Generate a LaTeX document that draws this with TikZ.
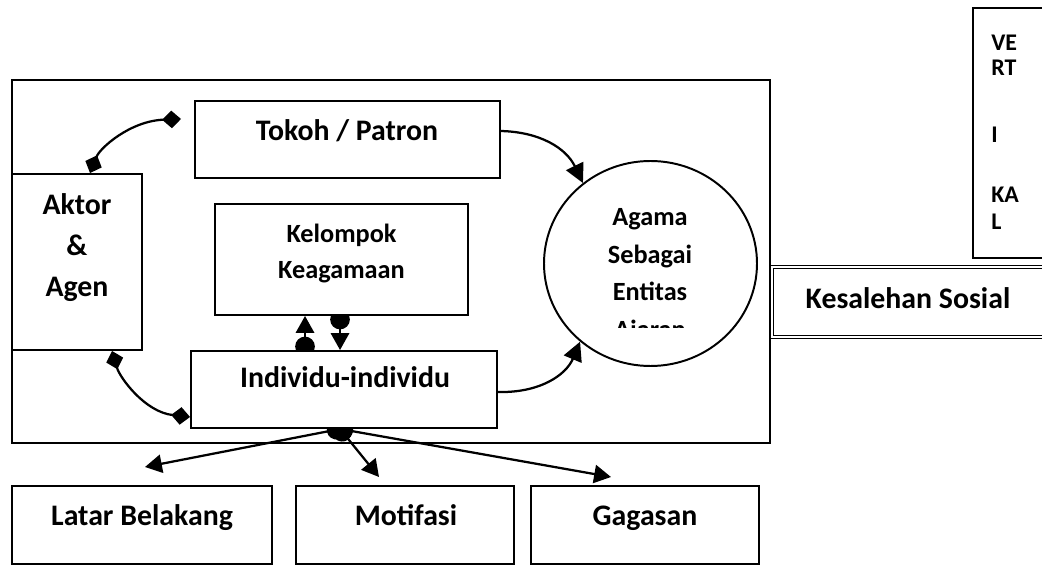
\documentclass[tikz,border=0pt]{standalone}
\usepackage{fontspec}
\setmainfont{Carlito}
\usetikzlibrary{arrows.meta,shapes.geometric,backgrounds,calc}

\tikzset{
  box/.style={draw, line width=1.4pt, fill=white, inner sep=0pt},
  wh/.style 2 args={minimum width=#1*0.025cm, minimum height=#2*0.025cm},
  lbl/.style={font=\bfseries\fontsize{21.2}{29}\selectfont, text height=14.8pt, text depth=4.3pt, inner sep=0pt},
  mlbl/.style={font=\bfseries\fontsize{18.7}{26.7}\selectfont, align=center, inner sep=0pt},
  vlbl/.style={font=\bfseries\fontsize{17}{20}\selectfont, inner sep=0pt},
  link/.style={line width=1.6pt},
  dia/.style={{Diamond[length=13.5pt,width=12.5pt]}-{Diamond[length=13.5pt,width=12.5pt]}},
  arr/.style={-{Triangle[length=13.5pt,width=13.5pt]}},
  dotarr/.style={{Circle[length=14pt]}-{Triangle[length=12pt,width=13pt]}, shorten <=-4.5pt}
}

\begin{document}
\begin{tikzpicture}[x=0.025cm, y=-0.025cm]
\clip (0,0) rectangle (1042,583);
% outer frame
\draw[line width=1.4pt] (12,80) rectangle (770,443);

% boxes
\node[box, wh={305}{77}] (tokoh) at (347.5,139.5) {};
\node[box, wh={130}{176}] (aktor) at (77,262) {};
\node[box, wh={253}{111}] (kelompok) at (341.5,259.5) {};
\node[box, wh={306}{77}] (indiv) at (344,389.5) {};
\node[box, ellipse, wh={213}{205}] (agama) at (650.5,263.5) {};
\node[box, wh={73}{250}] (vert) at (1009.5,133) {};
\node[box, double, double distance=1.6pt, line width=0.9pt, wh={274}{70}] (sosial) at (909,302) {};
\node[box, wh={260}{78}] (latar) at (142,525) {};
\node[box, wh={218}{78}] (motif) at (405,525) {};
\node[box, wh={228}{78}] (gagas) at (645,525) {};

% texts
\node[lbl] (tokohtxt) at (347,133) {Tokoh / Patron};
\node[mlbl, font=\bfseries\fontsize{21.2}{29.2}\selectfont] (aktortxt) at (77,247.5) {Aktor\\\&\\Agen};
\node[mlbl, font=\bfseries\fontsize{18.7}{25.6}\selectfont] (kelompoktxt) at (341.5,254) {Kelompok\\Keagamaan};
\node[lbl] (indivtxt) at (345,380) {Individu-individu};
\begin{scope}
\clip (540,150) rectangle (760,328);
\node[mlbl] (agamatxt) at (650,275.5) {Agama\\Sebagai\\Entitas\\Ajaran};
\end{scope}
\foreach \t/\b [count=\i] in {VE/51, RT/76, I/143, KA/203, L/230}
  \node[vlbl, anchor=base west] (vert\i) at (991,\b) {\t};
\node[lbl] (sosialtxt) at (908,301) {Kesalehan Sosial};
\node[lbl] (latartxt) at (142,518) {Latar Belakang};
\node[lbl] (motiftxt) at (406,518) {Motifasi};
\node[lbl] (gagastxt) at (645,518) {Gagasan};

% connectors
\begin{scope}[on background layer]
\coordinate (tokohdia) at (181,119);
\coordinate (latarend) at (145,467);
\coordinate (motifend) at (379,477);
\coordinate (gagasend) at (611,477);
\draw[link, dia] ($(aktor.north west)+(79,0)$) .. controls (100,148) and (130,121) .. (tokohdia);
\draw[link, dia] ($(aktor.south west)+(101,0)$) .. controls (120,378) and (145,412) .. ($(indiv.south west)+(0,-12)$);
\draw[link, arr] ($(tokoh.north east)+(0,31)$) .. controls (540,132) and (566,148) .. (agama.130);
\draw[link, arr] ($(indiv.north east)+(0,42)$) .. controls (540,393) and (566,375) .. (agama.228);
\draw[link, dotarr] ($(indiv.north west)+(115,0)$) -- ($(kelompok.south west)+(91,0)$);
\draw[link, dotarr] ($(kelompok.south west)+(126,0)$) -- ($(indiv.north west)+(150,0)$);
\draw[link, dotarr] ($(indiv.south west)+(150,0)$) -- (latarend);
\draw[link, dotarr] ($(indiv.south west)+(150,0)$) -- (motifend);
\draw[link, dotarr] ($(indiv.south west)+(150,0)$) -- (gagasend);
\end{scope}
\end{tikzpicture}
\end{document}
